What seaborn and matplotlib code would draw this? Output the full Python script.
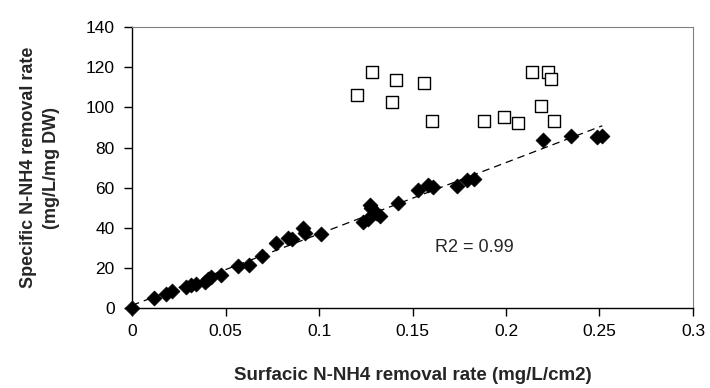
import numpy as np
import pandas as pd
import seaborn as sns
import matplotlib
matplotlib.use("Agg")
import matplotlib.pyplot as plt

# filled diamonds: surfacic vs specific removal rate
surf_x = [0.0, 0.012, 0.018, 0.0215, 0.029, 0.0317, 0.034, 0.0388, 0.0406, 0.042,
          0.0477, 0.0566, 0.0624, 0.0695, 0.0768, 0.0834, 0.0855, 0.0914, 0.0927,
          0.1013, 0.1236, 0.1262, 0.1271, 0.128, 0.1307, 0.1325, 0.1423, 0.153,
          0.1584, 0.161, 0.1739, 0.1789, 0.183, 0.2199, 0.2346, 0.2485, 0.2515]
spec_y = [0.0, 4.8, 7.0, 8.5, 10.6, 11.5, 12.0, 13.1, 14.3, 15.3,
          16.4, 21.1, 21.4, 25.9, 32.5, 35.0, 34.4, 39.7, 37.2,
          36.7, 43.0, 44.2, 51.3, 49.7, 47.2, 45.8, 52.5, 58.8,
          61.3, 60.1, 60.8, 63.8, 64.3, 84.0, 85.7, 85.4, 85.7]

# open squares
out_x = [0.1204, 0.1284, 0.1388, 0.141, 0.1562, 0.1605, 0.1883, 0.1989,
         0.2065, 0.214, 0.2185, 0.2226, 0.224, 0.2256]
out_y = [106.1, 117.7, 102.8, 113.6, 112.3, 93.3, 93.3, 95.3,
         92.0, 117.7, 100.6, 117.7, 114.0, 93.3]

x_ticks = [0, 0.05, 0.1, 0.15, 0.2, 0.25, 0.3]
x_tick_labels = ['0', '0.05', '0.1', '0.15', '0.2', '0.25', '0.3']
y_ticks = [0, 20, 40, 60, 80, 100, 120, 140]

sns.set_style("white")
plt.rcParams['font.family'] = ['Liberation Sans', 'DejaVu Sans']

main = pd.DataFrame({'x': surf_x, 'y': spec_y})
other = pd.DataFrame({'x': out_x, 'y': out_y})

fig = plt.figure(figsize=(7.1, 3.88), dpi=100)
ax = fig.add_axes([0.186, 0.206, 0.79, 0.724])

# dashed linear trend through the filled points
sns.regplot(x='x', y='y', data=main, scatter=False, ci=None, ax=ax,
            line_kws=dict(color='black', lw=0.9, ls=(0, (6, 4))))
sns.scatterplot(x='x', y='y', data=main, marker='D', s=58, color='black',
                edgecolor='black', linewidth=0.5, ax=ax, zorder=3, clip_on=False)
sns.scatterplot(x='x', y='y', data=other, marker='s', s=72, facecolor='white',
                edgecolor='black', linewidth=1.0, ax=ax, zorder=3)

ax.set_xlim(0, 0.3)
ax.set_ylim(0, 140)
ax.set_xticks(x_ticks)
ax.set_xticklabels(x_tick_labels)
ax.set_yticks(y_ticks)
ax.tick_params(axis='both', direction='out', length=5.5, width=1, labelsize=12.5,
               colors='black', left=True, bottom=True)
ax.tick_params(axis='x', pad=6)
ax.tick_params(axis='y', pad=7)

for s in ['left', 'bottom']:
    ax.spines[s].set_color('black')
    ax.spines[s].set_linewidth(1)
for s in ['top', 'right']:
    ax.spines[s].set_color('#808080')
    ax.spines[s].set_linewidth(0.8)

ax.text(0.183, 30, 'R2 = 0.99', fontsize=13, ha='center', va='center')

ax.set_xlabel('Surfacic N-NH4 removal rate (mg/L/cm2)', fontsize=13.5,
              fontweight='bold')
ax.set_ylabel('Specific N-NH4 removal rate\n(mg/L/mg DW)', fontsize=13,
              fontweight='bold', linespacing=1.5)
ax.xaxis.set_label_coords(0.5, -0.21)
ax.yaxis.set_label_coords(-0.128, 0.5)

fig.savefig('out.png', dpi=100)
